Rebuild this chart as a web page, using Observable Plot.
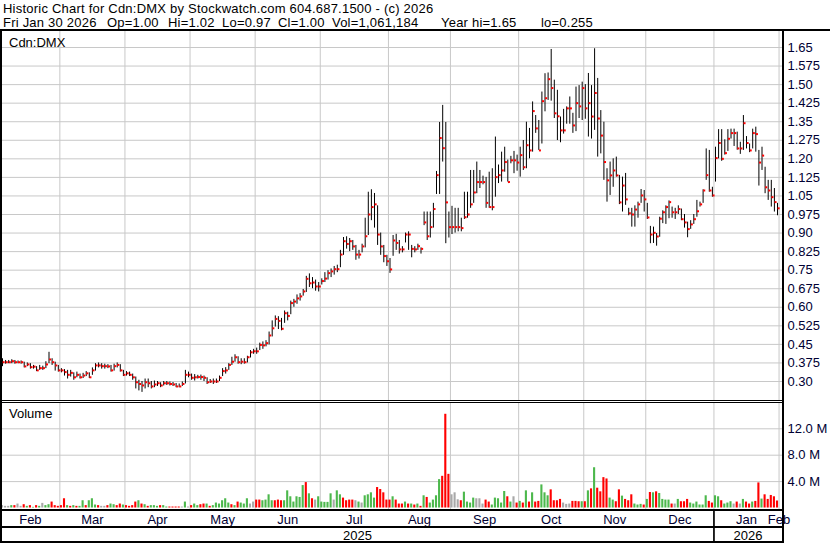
<!DOCTYPE html>
<html><head><meta charset="utf-8">
<script src="https://cdn.jsdelivr.net/npm/d3@7"></script>
<script src="https://cdn.jsdelivr.net/npm/@observablehq/plot@0.6"></script>
<style>
body{margin:0;background:#fff;}
#chart{position:relative;width:830px;height:543px;overflow:hidden;font-family:"Liberation Sans",Arial,sans-serif;background:#fff;color:#000}
.hdr{position:absolute;font-size:13px;letter-spacing:0.22px;line-height:13px;white-space:pre;color:#000}
.lbl{position:absolute;font-size:13px;line-height:13px;white-space:pre;color:#000}
.ln{position:absolute;background:#000}
</style></head><body><div id="chart"></div>
<script>
// ---------- data ----------
const titleLine1 = "Historic Chart for Cdn:DMX by Stockwatch.com 604.687.1500 - (c) 2026";
const titleLine2Parts = ["Fri Jan 30 2026", "Op=1.00", "Hi=1.02", "Lo=0.97", "Cl=1.00", "Vol=1,061,184", "Year hi=1.65", "lo=0.255"];
const symbolLabel = "Cdn:DMX";
const volumeLabel = "Volume";

const monthNames = ["Feb","Mar","Apr","May","Jun","Jul","Aug","Sep","Oct","Nov","Dec","Jan","Feb"];
const monthDays  = [19,21,21,21,21,22,20,22,21,20,22,21,0];
const yearNames  = ["2025","2026"];
const yearFirstMonth = [0, 11];

const priceTicks = [0.30,0.375,0.45,0.525,0.60,0.675,0.75,0.825,0.90,0.975,1.05,1.125,1.20,1.275,1.35,1.425,1.50,1.575,1.65];
const priceTickLabels = ["0.30","0.375","0.45","0.525","0.60","0.675","0.75","0.825","0.90","0.975","1.05","1.125","1.20","1.275","1.35","1.425","1.50","1.575","1.65"];
const volTicks = [4, 8, 12];
const volTickLabels = ["4.0 M","8.0 M","12.0 M"];

const high = [
 .392,.385,.385,.388,.385,.383,.383,.378,.375,.372,.365,.360,.365,.362,.380,.418,.392,.378,.365,
 .352,.348,.345,.345,.335,.338,.330,.333,.340,.335,.355,.372,.375,.372,.370,.368,.365,.370,.375,.368,.345,
 .340,.338,.330,.318,.305,.300,.310,.310,.300,.302,.300,.295,.300,.300,.298,.296,.292,.290,.298,.345,.338,
 .330,.328,.325,.326,.322,.315,.308,.310,.310,.322,.352,.356,.372,.398,.408,.400,.392,.392,.402,.425,.430,
 .435,.455,.460,.465,.500,.545,.565,.562,.555,.585,.580,.625,.632,.650,.655,.672,.725,.735,.720,.710,.700,
 .715,.740,.748,.755,.765,.770,.830,.882,.885,.878,.870,.850,.830,.855,.960,1.065,1.075,1.060,1.010,.900,.850,.810,
 .797,.890,.895,.870,.845,.900,.905,.850,.845,.855,.840,.985,.985,.985,1.020,1.149,1.347,1.416,1.347,.985,
 1.008,1.000,1.000,.960,1.065,1.065,1.153,1.153,1.187,1.153,1.130,1.125,1.146,1.160,1.288,1.175,1.227,1.247,1.195,1.210,1.230,1.215,
 1.247,1.274,1.348,1.323,1.430,1.375,1.355,1.470,1.544,1.547,1.642,1.518,1.477,1.369,1.400,1.410,1.450,1.384,1.490,1.496,1.510,1.500,
 1.545,1.496,1.645,1.525,1.395,1.348,1.160,1.187,1.200,1.207,1.133,1.126,1.141,1.000,1.000,1.010,1.025,1.076,1.072,1.020,
 .927,.924,.898,.964,.990,1.010,1.030,1.005,1.000,1.010,.997,.975,.944,.950,.975,1.032,1.025,1.075,1.240,1.234,1.085,
 1.247,1.318,1.318,1.277,1.318,1.320,1.320,1.308,1.267,1.375,1.290,1.260,1.320,1.328,1.234,1.247,1.166,1.113,1.113,1.080,1.020
];
const low = [
 .360,.370,.372,.372,.370,.372,.370,.355,.360,.350,.350,.340,.345,.345,.352,.372,.365,.342,.338,
 .335,.322,.310,.318,.305,.315,.310,.312,.320,.312,.325,.342,.355,.350,.350,.352,.338,.342,.355,.338,.320,
 .322,.320,.305,.270,.262,.256,.270,.275,.270,.275,.280,.275,.282,.284,.282,.280,.275,.275,.280,.290,.315,
 .305,.302,.310,.305,.300,.288,.292,.288,.292,.300,.320,.330,.345,.365,.378,.370,.368,.370,.375,.395,.410,
 .410,.425,.430,.440,.448,.480,.520,.510,.505,.535,.545,.570,.600,.612,.625,.645,.660,.680,.675,.665,.662,
 .690,.700,.710,.720,.730,.740,.760,.810,.835,.825,.830,.790,.795,.820,.840,.890,.950,.920,.850,.810,.780,.765,
 .737,.806,.830,.815,.820,.860,.830,.800,.820,.830,.815,.930,.870,.880,.920,1.056,1.056,1.187,.857,.880,
 .894,.900,.905,.905,.955,.960,1.000,1.020,1.059,1.080,1.095,1.000,1.000,.990,1.045,1.100,1.106,1.146,1.106,1.180,1.140,1.150,
 1.126,1.153,1.160,1.200,1.227,1.303,1.234,1.260,1.390,1.436,1.433,1.363,1.274,1.265,1.300,1.340,1.340,1.303,1.310,1.363,1.355,1.360,
 1.288,1.280,1.315,1.207,1.220,1.113,1.025,1.052,1.085,1.126,1.015,.985,1.012,.970,.924,.924,.960,1.020,.985,.955,
 .857,.858,.847,.883,.938,.935,.958,.960,.955,.975,.950,.920,.881,.915,.935,.964,1.005,1.020,1.113,1.065,1.045,
 1.106,1.200,1.190,1.215,1.230,1.280,1.250,1.235,1.218,1.234,1.240,1.225,1.240,1.227,1.090,1.153,1.059,1.032,1.005,.985,.970
];
const close = [
 .378,.378,.378,.382,.378,.378,.378,.361,.369,.358,.360,.345,.354,.354,.369,.389,.378,.365,.345,
 .345,.338,.327,.335,.317,.327,.317,.324,.333,.317,.345,.365,.365,.362,.362,.361,.345,.362,.367,.345,.327,
 .333,.327,.317,.297,.290,.284,.297,.293,.280,.288,.293,.284,.293,.293,.290,.288,.280,.280,.290,.327,.327,
 .315,.317,.318,.318,.315,.297,.300,.300,.300,.315,.342,.345,.367,.380,.398,.378,.380,.378,.398,.418,.422,
 .422,.448,.446,.455,.486,.515,.553,.545,.513,.576,.565,.617,.623,.636,.644,.664,.715,.697,.700,.684,.684,
 .706,.716,.738,.745,.754,.754,.813,.867,.856,.867,.846,.813,.813,.846,.887,.975,1.005,1.016,.894,.846,.807,.786,
 .753,.870,.860,.834,.834,.894,.894,.836,.834,.847,.836,.943,.887,.924,.997,1.134,1.284,1.243,1.024,.924,
 .924,.924,.924,.920,.964,.975,1.016,1.064,1.106,1.106,1.106,1.022,1.005,1.005,1.126,1.134,1.153,1.187,1.106,1.194,1.194,1.185,
 1.215,1.166,1.255,1.234,1.393,1.323,1.234,1.433,1.445,1.522,1.486,1.384,1.372,1.315,1.315,1.404,1.404,1.335,1.425,1.412,1.486,1.404,
 1.425,1.371,1.466,1.363,1.294,1.187,1.113,1.133,1.153,1.133,1.024,1.092,1.036,.980,.975,.995,1.016,1.052,1.036,.963,
 .894,.901,.886,.958,.984,1.005,1.025,.984,.984,.997,.956,.943,.916,.935,.956,.988,1.016,1.072,1.134,1.072,1.052,
 1.203,1.264,1.200,1.223,1.281,1.304,1.304,1.242,1.242,1.344,1.264,1.234,1.304,1.300,1.185,1.213,1.085,1.072,1.045,1.025,1.000
];
// volume in millions of shares
const volume = [
 .36,.25,.25,.36,.36,.6,.25,.5,.25,.36,.1,.36,.25,.7,.36,.5,.9,.36,.25,
 .36,1.4,.36,.25,.36,.25,.25,1.1,.36,1.1,1.4,.45,.36,.25,.25,.36,.6,.5,.36,.6,.45,
 .36,.25,.36,.9,1.1,.6,.5,.25,.36,.36,.25,.36,.36,.15,.15,.15,.15,.15,.15,.9,.15,
 .36,.6,.36,.5,.6,.6,.25,.36,.75,.6,1.1,1.4,.75,.5,.36,.9,.75,.6,1.4,.6,.9,
 1.2,1.2,1.1,1.2,2.0,1.1,1.1,1.2,1.1,1.1,2.6,1.7,.9,1.7,1.6,3.4,3.85,2.15,1.4,1.2,1.7,
 .9,.85,.85,2.15,1.2,2.6,2.0,1.5,1.1,1.2,1.2,1.1,.9,.75,1.85,2.0,2.3,1.5,3.1,2.8,2.3,1.2,
 1.2,1.7,1.2,.6,.6,.9,.6,.6,.45,.6,.25,1.85,1.6,.75,1.2,1.85,4.3,4.8,14.2,5.1,
 2.0,2.3,1.25,1.1,2.4,.9,.75,1.5,1.4,1.4,.6,1.2,.9,.45,1.5,1.4,.75,2.5,1.7,.9,1.7,.75,
 1.0,.75,2.6,.9,2.3,.9,1.0,3.5,2.3,1.85,2.75,1.1,1.1,1.3,.75,.55,.6,1.0,1.0,.95,.95,.95,
 2.6,2.9,6.1,3.0,2.45,4.6,4.4,1.5,1.2,.95,2.75,1.8,1.3,1.1,2.0,.6,.45,.55,.45,1.3,
 2.35,2.3,2.45,2.2,1.3,1.2,1.2,.6,.6,1.3,.95,.95,1.3,.75,.6,.9,.45,.45,1.85,1.0,.75,
 1.85,1.7,1.1,.6,.75,.95,.6,.9,.6,1.3,.9,.6,.9,1.0,3.8,1.35,2.0,1.3,1.9,1.7,1.06
];
// volume bar colour: G = up, R = down, N = unchanged
const volumeDir = (
 "NNNGRNNRGRGRGNGGRRR" + "RRGRGRGGRGGGRNNRGGRRG" + "RRRRGRGRGGGRGGRRRRNGN" +
 "RGGRRGRGGGGGGRGRGGGNN" + "RRGGGGRRRGGGGGGGRGRNG" + "GGGGNGGRRRRNGNGGGGRRRR" +
 "RGRRRGRGRGRGRGGGGRRR" + "NNNRGGGGNNNRRGGGGGRGNR" + "GRGRGRRGGGRRRRNNNRRRGR" +
 "GRGRRRRGGRRGRRRGGGRG" + "RGRGGGGRNGRRRGGGGGGRR" + "GGRGGGNRNGRRGRRGRRRRR"
).split("");

// ---------- build ----------
const dirColor = {G: "#4cb84c", R: "#ff0000", N: "#a8a8a8"};
const N = close.length;
const rows = close.map((c, i) => ({i, hi: high[i], lo: low[i], cl: c, vol: volume[i], col: dirColor[volumeDir[i]]}));

const starts = [];
monthDays.reduce((s, d) => { starts.push(s); return s + d; }, 0);
const boundaries = starts.slice(1).map(s => s - 0.5);
const monthLabels = monthNames.map((m, k) => ({name: m, pos: starts[k] - 0.5 + monthDays[k] / 2}));
const yearLabels = yearNames.map((y, k) => {
  const a = starts[yearFirstMonth[k]] - 0.5;
  const b = k + 1 < yearNames.length ? starts[yearFirstMonth[k + 1]] - 0.5 : N + 0.5;
  return {name: y, pos: (a + b) / 2};
});
const yearBoundaries = yearFirstMonth.slice(1).map(m => starts[m] - 0.5);

const W = 830, RIGHT = 48, LEFT = 2;
const xScale = {domain: [0, 250], range: [2, 777], axis: null};
const grid = "#c8c8c8";
const font = {fontFamily: "'Liberation Sans', Arial, sans-serif", fontSize: "13px", color: "#000033", background: "transparent", overflow: "visible"};

const chart = document.getElementById("chart");
function add(text, cls, css) { const d = document.createElement("div"); d.className = cls; d.textContent = text; Object.assign(d.style, css); chart.appendChild(d); return d; }

// header
add(titleLine1, "hdr", {left: "3px", top: "2px"});
const line2X = [3, 107, 168, 222, 278, 332, 441, 541];
titleLine2Parts.forEach((t, k) => add(t, "hdr", {left: line2X[k] + "px", top: "15.5px"}));

// price panel
const pricePlot = Plot.plot({
  width: W, height: 369, marginTop: 0, marginBottom: 0, marginLeft: LEFT, marginRight: RIGHT,
  style: font,
  x: xScale,
  y: {domain: [0.30, 1.65], range: [350, 16]},
  marks: [
    Plot.gridY(priceTicks, {stroke: grid, strokeOpacity: 1}),
    Plot.ruleX(boundaries, {stroke: grid, strokeOpacity: 1}),
    Plot.ruleX(rows, {x: "i", y1: "lo", y2: "hi", stroke: "#000", strokeWidth: 1}),
    Plot.ruleY(rows, {y: "cl", x1: d => d.i + 0.2, x2: d => d.i + 0.85, stroke: "#ff0000", strokeWidth: 2}),
    Plot.axisY(priceTicks, {anchor: "right", label: null, tickSize: 0, tickPadding: 5, fontSize: 13, fill: "#000033",
      tickFormat: d => priceTickLabels[priceTicks.indexOf(d)]})
  ]
});
pricePlot.style.position = "absolute";
pricePlot.style.top = "31px";
pricePlot.style.left = "0px";
chart.appendChild(pricePlot);

// volume panel
const volPlot = Plot.plot({
  width: W, height: 106, marginTop: 0, marginBottom: 0, marginLeft: LEFT, marginRight: RIGHT,
  style: font,
  x: xScale,
  y: {domain: [0, 12], range: [104.5, 25.3]},
  color: {type: "identity"},
  marks: [
    Plot.gridY(volTicks, {stroke: grid, strokeOpacity: 1}),
    Plot.ruleX(boundaries, {stroke: grid, strokeOpacity: 1}),
    Plot.rect(rows, {x1: d => d.i - 0.34, x2: d => d.i + 0.34, y1: 0, y2: "vol", fill: "col"}),
    Plot.axisY(volTicks, {anchor: "right", label: null, tickSize: 0, tickPadding: 5, fontSize: 13, fill: "#000033",
      tickFormat: d => volTickLabels[volTicks.indexOf(d)]})
  ]
});
volPlot.style.position = "absolute";
volPlot.style.top = "403px";
volPlot.style.left = "0px";
chart.appendChild(volPlot);

// date axis
const axisPlot = Plot.plot({
  width: W, height: 33, marginTop: 0, marginBottom: 0, marginLeft: LEFT, marginRight: RIGHT,
  style: font,
  x: xScale,
  marks: [
    Plot.ruleX(yearBoundaries, {stroke: "#000", strokeWidth: 1.7}),
    Plot.text(monthLabels, {x: "pos", text: "name", frameAnchor: "top", dy: 4, fontSize: 13, fill: "#000033"}),
    Plot.text(yearLabels, {x: "pos", text: "name", frameAnchor: "top", dy: 20, fontSize: 13, fill: "#000"})
  ]
});
axisPlot.style.position = "absolute";
axisPlot.style.top = "510px";
axisPlot.style.left = "0px";
chart.appendChild(axisPlot);

add(symbolLabel, "lbl", {left: "9px", top: "35.5px"});
add(volumeLabel, "lbl", {left: "9px", top: "406.5px"});

// frame lines
const lines = [
  {left: 0, top: 29, width: 830, height: 2},
  {left: 0, top: 29, width: 2, height: 514},
  {left: 781.5, top: 29, width: 2, height: 514},
  {left: 0, top: 400, width: 782, height: 1.3},
  {left: 0, top: 402, width: 782, height: 1.3},
  {left: 0, top: 509, width: 782, height: 2},
  {left: 0, top: 526, width: 782, height: 2},
  {left: 0, top: 541, width: 782, height: 2}
];
for (const l of lines) {
  const d = document.createElement("div"); d.className = "ln";
  Object.assign(d.style, {left: l.left + "px", top: l.top + "px", width: l.width + "px", height: l.height + "px"});
  chart.appendChild(d);
}
</script></body></html>
